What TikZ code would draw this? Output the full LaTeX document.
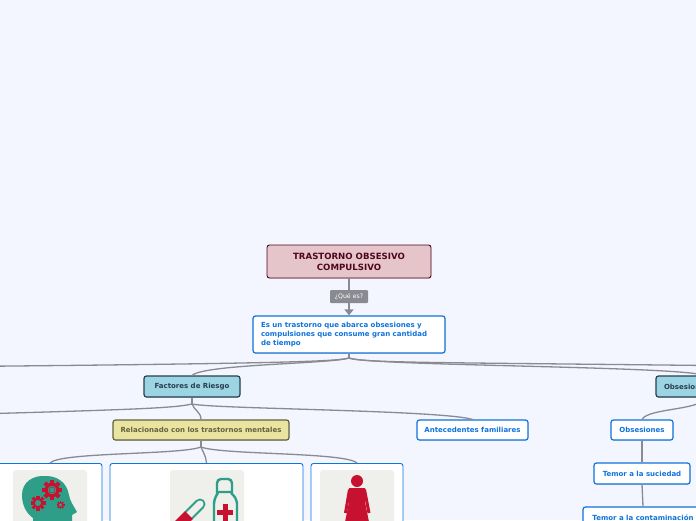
\documentclass[tikz,border=0pt]{standalone}
\usepackage{xcolor}
\usepackage{fontspec}
\setmainfont{DejaVu Sans}
\usepackage{tikz}
\usetikzlibrary{arrows.meta, shadows}

% Color definitions
\definecolor{pageC}{RGB}{243,246,255}
\definecolor{titleC}{RGB}{229,197,202}
\definecolor{titleD}{RGB}{80,5,30}
\definecolor{blueD}{RGB}{15,115,220}
\definecolor{skyC}{RGB}{155,212,226}
\definecolor{skyD}{RGB}{40,62,78}
\definecolor{sandC}{RGB}{233,228,160}
\definecolor{sandD}{RGB}{100,97,65}
\definecolor{linkC}{RGB}{138,138,146}
\definecolor{panelC}{RGB}{239,239,236}
\definecolor{tealC}{RGB}{46,158,136}
\definecolor{redC}{RGB}{198,18,48}

\newcommand{\gearicon}[3]{%
  \foreach \ang in {0,45,...,315}
    \draw[redC, line width=#3*0.42pt] (#1,#2) ++(\ang:#3*0.7) -- ++(\ang:#3*0.3);
  \draw[redC, line width=#3*0.3pt] (#1,#2) circle (#3*0.58);
}

\begin{document}
\begin{tikzpicture}[
    x=1pt, y=-1pt,
    topic/.style={draw, rectangle, rounded corners=2.5pt, line width=1.2pt, inner sep=0pt,
                  font=\bfseries\fontsize{7}{9}\selectfont, align=center,
                  drop shadow={shadow xshift=0.4pt, shadow yshift=-0.8pt, opacity=0.25}},
    leaf/.style={topic, draw=blueD, fill=white, text=blueD, minimum height=21pt},
    risk/.style={topic, draw=skyD, fill=skyC, text=skyD, minimum height=21pt},
    sand/.style={topic, draw=sandD, fill=sandC, text=sandD, minimum height=20pt},
    card/.style={draw=blueD, fill=white, rounded corners=2.5pt, line width=0.9pt,
                 minimum height=120pt, anchor=north, inner sep=0pt},
    link/.style={draw=linkC, line width=1.3pt},
]

\fill[pageC] (0,0) rectangle (696,520);
\useasboundingbox (0,0) rectangle (696,520);
\clip (0,0) rectangle (696,520);

% Main nodes
\node[topic, draw=titleD, fill=titleC, text=titleD, minimum width=164pt, minimum height=33pt,
      line width=0.9pt, font=\bfseries\fontsize{8.6}{11}\selectfont] (title) at (349,261.5)
  {TRASTORNO OBSESIVO\\COMPULSIVO};
\node[leaf, minimum width=192pt, minimum height=37pt, align=left] (answer) at (349,334.5)
  {\begin{minipage}{176pt}\fontsize{7}{9}\selectfont Es un trastorno que abarca obsesiones y\\
   compulsiones que consume gran cantidad\\de tiempo\end{minipage}};

\node[risk, minimum width=96pt] (factores) at (192,386.5) {Factores de Riesgo};
\node[risk, minimum width=96pt, text width=80pt, align=left] (obsesion) at (704,386.5) {Obsesiones};
\node[sand, minimum width=176pt] (mentales) at (201,430) {Relacionado con los trastornos mentales};
\node[leaf, minimum width=111pt, minimum height=20pt] (familia) at (472.5,430) {Antecedentes familiares};
\node[leaf, minimum width=62pt, minimum height=20pt] (obsesiones) at (642,430) {Obsesiones};
\node[leaf, minimum width=96pt] (suciedad) at (642,473.5) {Temor a la suciedad};
\node[leaf, minimum width=120pt] (contagio) at (643,517.5) {Temor a la contaminación};

% Image cards
\node[card, minimum width=104pt] (cardhead) at (50,463) {};
\node[card, minimum width=193pt] (cardpill) at (206.5,463) {};
\node[card, minimum width=92pt] (cardwoman) at (357,463) {};

% Forks
\coordinate (answerfork) at (349,358);
\coordinate (factorfork) at (192,404);
\coordinate (mentalfork) at (201,447);
\coordinate (farleft) at (-200,368);
\coordinate (farright) at (900,368);
\coordinate (riskleft) at (-200,419);

% Connectors
\draw[link, -{Triangle[length=6pt, width=9pt]}] (title.south) -- (answer.north);
\node[fill=linkC, text=white, rounded corners=1pt, minimum width=38pt, minimum height=13pt,
      inner sep=0pt, font=\fontsize{6.2}{7}\selectfont] (que) at (349,296.5) {¿Qué es?};

\draw[link] (answer.south) -- (answerfork);
\draw[link] (answerfork) .. controls (335,362) and (260,364) .. (farleft);
\draw[link] (answerfork) .. controls (330,364) and (205,364) .. (factores.north);
\draw[link] (answerfork) .. controls (365,364) and (480,362) .. (farright);
\draw[link] (answerfork) .. controls (370,366) and (680,366) .. (obsesion.north);

\draw[link] (factores.south) -- (factorfork);
\draw[link] (factorfork) .. controls (170,409) and (120,410) .. (riskleft);
\draw[link] (factorfork) .. controls (194,410) and (201,412) .. (mentales.north);
\draw[link] (factorfork) .. controls (215,409) and (440,410) .. (familia.north);

\draw[link] (mentales.south) -- (mentalfork);
\draw[link] (mentalfork) .. controls (180,455) and (60,452) .. (cardhead.north);
\draw[link] (mentalfork) .. controls (203,452) and (206,456) .. (cardpill.north);
\draw[link] (mentalfork) .. controls (222,455) and (345,452) .. (cardwoman.north);

\draw[link] (obsesion.south) .. controls (704,410) and (648,408) .. (obsesiones.north);
\draw[link] (obsesiones.south) -- (suciedad.north);
\draw[link] (suciedad.south) -- (contagio.north);

% Head icon
\fill[panelC, rounded corners=3pt] (13,470) rectangle (87,530);
\fill[tealC] (22,495) .. controls (22,482) and (33,475) .. (46,476)
  .. controls (58,476) and (67,483) .. (69,495)
  .. controls (70,501) and (73,505) .. (77,512)
  -- (72,515) -- (72,530) -- (34,530) -- (33,518)
  .. controls (26,513) and (22,505) .. (22,495) -- cycle;
\gearicon{52}{490}{10}
\gearicon{38}{503}{7.5}
\gearicon{60.5}{505}{4}
\draw[redC!70!tealC, line width=0.8pt] (52,490) circle (3pt);

% Pill and bottle icon
\fill[panelC, rounded corners=3pt] (170,470) rectangle (244,530);
\draw[tealC, line width=11pt, line cap=round] (189,515) -- (200,504);
\draw[panelC, line width=7pt, line cap=round] (189,515) -- (200,504);
\draw[redC, line width=11pt] (189,515) -- (172,532);
\draw[tealC, line width=2.4pt, rounded corners=4pt]
  (217,494) -- (217,479) -- (232,479) -- (232,494) (216,492) -- (233,492);
\draw[tealC, line width=2.4pt, rounded corners=5pt]
  (218,493) -- (214,499) -- (214,530) (231,493) -- (237,499) -- (237,530);
\fill[redC] (217,510) rectangle (233,515);
\fill[redC] (222.5,504) rectangle (227.5,522);

% Woman icon
\fill[panelC, rounded corners=3pt] (320,470) rectangle (394,530);
\fill[redC] (357,481) circle (6);
\fill[redC] (349,488) -- (365,488) -- (365,502) -- (369,522) -- (345,522) -- (349,502) -- cycle;
\draw[redC, line width=3pt] (349.5,489.5) -- (345.5,513);
\draw[redC, line width=3pt] (364.5,489.5) -- (369,513);

\end{tikzpicture}
\end{document}
